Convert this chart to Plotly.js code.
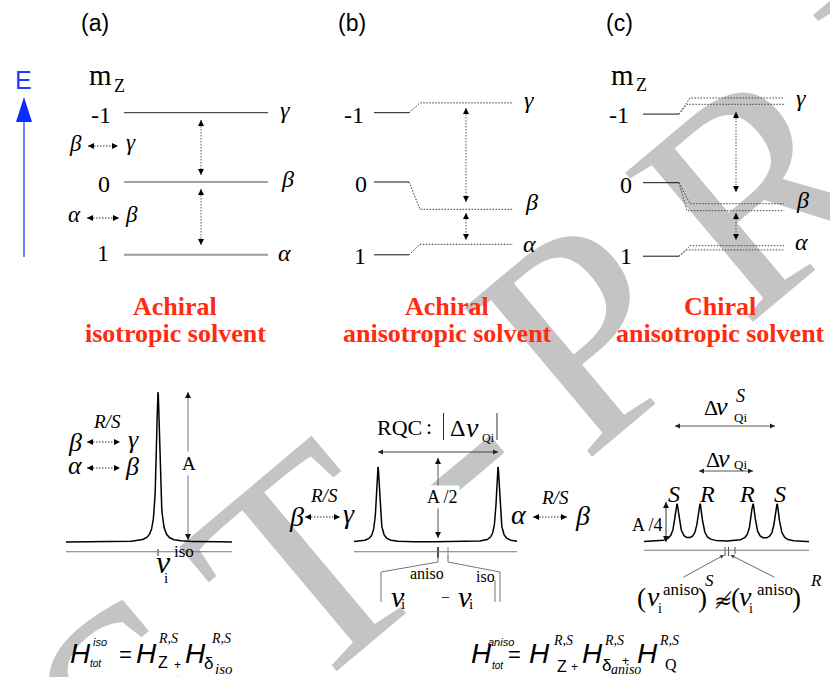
<!DOCTYPE html>
<html><head><meta charset="utf-8">
<script src="https://cdn.plot.ly/plotly-3.0.1.min.js"></script>
<style>html,body{margin:0;padding:0;background:#fff}#chart{width:830px;height:677px}</style>
</head><body><div id="chart"></div>
<script>
// ---------------- DATA ----------------
const panelLetters = ['(a)', '(b)', '(c)'];
const solventLine1 = ['Achiral', 'Achiral', 'Chiral'];
const solventLine2 = ['isotropic solvent', 'anisotropic solvent', 'anisotropic solvent'];
const mzLabels = ['-1', '0', '1'];
const spinStates = ['γ', 'β', 'α'];
const watermarkText = 'POST-PRINT';

// energy levels (arbitrary units; E = 0 for m_z = 0 in isotropic solvent), order: m_z = -1, 0, 1
const levelsIso = [0.99, 0.00, -1.04];
const levelsAchiralRef = [0.99, 0.00, -1.04];
const levelsAchiral = [1.13, -0.39, -0.89];
const levelsChiralRef = [0.97, -0.01, -1.06];
const levelsChiralS = [1.20, -0.31, -0.91];
const levelsChiralR = [1.11, -0.41, -0.97];

// transitions (energies at arrow tips)
const transIso = [[0.886, 0.10], [-0.10, -0.90]];
const transAchiral = [[1.057, -0.286], [-0.443, -0.829]];
const transChiral = [[1.00, -0.143], [-0.443, -0.829]];

// spectra: line frequencies and intensities (units of A)
const isoLines = [158];
const isoHeights = [1];
const anisoLines = [378, 498];
const anisoHeights = [0.5, 0.5];
const chiralLines = [677, 700, 753, 777];
const chiralHeights = [0.25, 0.25, 0.25, 0.25];
const chiralLineLabels = ['S', 'R', 'R', 'S'];
const anisoTicks = [438, 448];
const chiralTicks = [725, 728.5, 735];

// ---------------- STYLE / HELPERS ----------------
const SERIF = 'Liberation Serif';
const SANS = 'Liberation Sans';
const RED = '#ff2b0f';
const DOT = '1.5px,1.5px';
const E_RANGE = [-7.0714, 2.6];      // energy axis (y2)
const I_RANGE = [-0.9, 3.6133];      // intensity axis (y3)

const traces = [];
const ann = [];

function line(xs, ys, yaxis, color, width, dash) {
  traces.push({type: 'scatter', mode: 'lines', x: xs, y: ys, yaxis: yaxis,
    line: {color: color, width: width, dash: dash || 'solid'}, hoverinfo: 'skip', showlegend: false});
}
function heads(xs, ys, yaxis, symbols, color, size) {
  traces.push({type: 'scatter', mode: 'markers', x: xs, y: ys, yaxis: yaxis,
    marker: {symbol: symbols, color: color, size: size, line: {width: 0}}, hoverinfo: 'skip', showlegend: false});
}
function vArrow(x, yTop, yBot, yaxis, lc, dash, hc, size) {
  line([x, x], [yTop, yBot], yaxis, lc, 1, dash);
  heads([x, x], [yTop, yBot], yaxis, ['arrow-up', 'arrow-down'], hc, size);
}
function hArrow(xL, xR, y, yaxis, lc, dash, hc, size) {
  line([xL, xR], [y, y], yaxis, lc, 1, dash);
  heads([xL, xR], [y, y], yaxis, ['arrow-left', 'arrow-right'], hc, size);
}
function T(x, y, text, size, o) {
  o = o || {};
  ann.push({x: x, y: y, xref: 'x', yref: o.yref || 'y', text: text, showarrow: false,
    xanchor: o.xanchor || 'center', yanchor: 'middle',
    font: {family: o.family || SERIF, size: size, color: o.color || '#000'},
    bgcolor: o.bg || 'rgba(0,0,0,0)', borderpad: o.pad === undefined ? 1 : o.pad});
}
function spectrum(pos, hts, gamma, x0, x1) {
  const xs = [], ys = [];
  for (let x = x0; x <= x1 + 1e-9; x += 0.25) {
    let s = 0;
    for (let k = 0; k < pos.length; k++) {
      const d = x - pos[k];
      s += hts[k] * gamma * gamma / (d * d + gamma * gamma);
    }
    xs.push(x); ys.push(s);
  }
  line(xs, ys, 'y3', '#000', 1.5);
}

// ---------------- WATERMARK (letter-spaced, rotated) ----------------
const WM = {angle: 40, size: 300, track: 43, anchorIdx: 2, anchor: [180, 753], lift: 0.32, color: '#c4c4c4'};
const wmShapes = (function () {
  const letters = watermarkText.split('');
  const ctx = document.createElement('canvas').getContext('2d');
  ctx.font = WM.size + 'px "Liberation Serif"';
  const adv = letters.map(c => ctx.measureText(c).width);
  const pos = [];
  let d = 0;
  letters.forEach((c, i) => { if (i > 0) d += adv[i - 1] / 2 + WM.track + adv[i] / 2; pos.push(d); });
  const th = WM.angle * Math.PI / 180;
  const u = [Math.cos(th), -Math.sin(th)], v = [-Math.sin(th), -Math.cos(th)];
  const off = WM.lift * WM.size;
  return letters.map((c, i) => {
    const s = pos[i] - pos[WM.anchorIdx];
    const cx = WM.anchor[0] + s * u[0] + off * v[0];
    const cy = WM.anchor[1] + s * u[1] + off * v[1];
    return {type: 'rect', xref: 'x', yref: 'y', x0: cx - 1, x1: cx + 1, y0: cy - 1, y1: cy + 1,
      layer: 'below', line: {width: 0}, fillcolor: 'rgba(0,0,0,0)',
      label: {text: c, textangle: -WM.angle, textposition: 'middle center',
        font: {family: SERIF, size: WM.size, color: WM.color}}};
  });
})();

// ---------------- TOP: ENERGY LEVELS ----------------
line([24, 24], [257, 112], 'y', '#3a5cff', 1.5);
traces.push({type: 'scatter', mode: 'lines', x: [16, 32, 24, 16], y: [122, 122, 97, 122], yaxis: 'y',
  fill: 'toself', fillcolor: '#0a2cff', line: {width: 0}, hoverinfo: 'skip', showlegend: false});

// (a)
const isoStyle = [['#222', 1], ['#444', 1.2], ['#999', 2]];
levelsIso.forEach((E, i) => line([124, 268], [E, E], 'y2', isoStyle[i][0], isoStyle[i][1]));
transIso.forEach(t => vArrow(201, t[0], t[1], 'y2', '#555', DOT, '#000', 6));
hArrow(88, 118, 146, 'y', '#333', DOT, '#000', 6);
hArrow(87, 119, 218, 'y', '#333', DOT, '#000', 6);

// (b)
levelsAchiral.forEach((E, i) => {
  const E0 = levelsAchiralRef[i];
  line([374, 409], [E0, E0], 'y2', '#111', 1);
  line([409, 420, 513], [E0, E, E], 'y2', '#333', 1, DOT);
});
transAchiral.forEach(t => vArrow(466, t[0], t[1], 'y2', '#555', DOT, '#000', 6));

// (c)
levelsChiralS.forEach((E, i) => {
  const E0 = levelsChiralRef[i];
  line([643, 679], [E0, E0], 'y2', '#111', 1);
  line([679, 690, 784], [E0, E, E], 'y2', '#444', 1, DOT);
  line([679, 687, 784], [E0, levelsChiralR[i], levelsChiralR[i]], 'y2', '#444', 1, DOT);
});
transChiral.forEach(t => vArrow(736, t[0], t[1], 'y2', '#555', DOT, '#000', 6));

// ---------------- BOTTOM: SPECTRA ----------------
spectrum(isoLines, isoHeights, 2.0, 66, 232);
spectrum(anisoLines, anisoHeights, 2.0, 354, 517);
spectrum(chiralLines, chiralHeights, 2.8, 644, 809);
line([66, 232], [-0.065, -0.065], 'y3', '#777', 1);
line([354, 517], [-0.065, -0.065], 'y3', '#777', 1);
line([644, 809], [-0.055, -0.055], 'y3', '#777', 1);
isoLines.forEach(x => line([x, x], [549, 556], 'y', '#333', 1));
anisoTicks.forEach((x, i) => line([x, x], [547, 558], 'y', i ? '#888' : '#222', i ? 1 : 1.6));
chiralTicks.forEach((x, i) => line([x, x], [547, i === 2 ? 554 : 556], 'y', '#555', 1));
vArrow(188, isoHeights[0], 0.013, 'y3', '#777', 'solid', '#111', 6);
vArrow(438, 0.56, 0.027, 'y3', '#555', 'solid', '#111', 6);
vArrow(666, chiralHeights[0] + 0.017, 0.0, 'y3', '#333', 'solid', '#111', 6);
hArrow(anisoLines[0], anisoLines[1], 452, 'y', '#444', 'solid', '#222', 5);
hArrow(chiralLines[0] - 2, chiralLines[3] - 2, 426, 'y', '#555', 'solid', '#222', 5);
hArrow(chiralLines[1] - 1, chiralLines[2], 471, 'y', '#555', 'solid', '#222', 5);
hArrow(87, 120, 442, 'y', '#333', DOT, '#000', 6);
hArrow(87, 120, 468, 'y', '#333', DOT, '#000', 6);
hArrow(305, 340, 517, 'y', '#333', DOT, '#000', 6);
hArrow(533, 567, 517, 'y', '#333', DOT, '#000', 6);
line([438, 438, 381, 381], [556, 562, 572, 602], 'y', '#777', 1);
line([448, 448, 500, 500], [556, 562, 572, 602], 'y', '#777', 1);
line([495, 495], [580, 602], 'y', '#777', 1);
line([443.5, 443.5], [413, 440], 'y', '#333', 1);
line([497, 497], [413, 440], 'y', '#333', 1);

// ---------------- TEXT ----------------
panelLetters.forEach((t, i) => T([95, 352, 619][i], 23, t, 23, {family: SANS}));
T(23, 80, 'E', 25, {family: SANS, color: '#1a3cff'});
T(100.5, 75, 'm', 29); T(119, 85.5, 'Z', 18);
T(622, 75, 'm', 29); T(641.5, 85, 'Z', 18);

const mzX = [[101, 103.5, 103], [354, 361, 360], [619, 625.5, 626]];
const mzY = [[115, 184, 253], [115, 183.5, 255.5], [114.5, 185, 256]];
const stX = [[285, 287, 284], [529, 531, 529], [801, 802, 801]];
const stY = [[110, 179, 253], [100, 202, 244], [98, 200, 242]];
for (let p = 0; p < 3; p++) {
  mzLabels.forEach((m, i) => T(mzX[p][i], mzY[p][i], m, 24));
  spinStates.forEach((s, i) => T(stX[p][i], stY[p][i], '<i>' + s + '</i>', 24));
}
T(75, 143.5, '<i>β</i>', 23); T(131, 142, '<i>γ</i>', 23);
T(74.5, 214, '<i>α</i>', 23); T(131, 214, '<i>β</i>', 23);

[175, 447, 720].forEach((x, i) => {
  T(x, 306, '<b>' + solventLine1[i] + '</b>', 26, {color: RED});
  T(x, 333, '<b>' + solventLine2[i] + '</b>', 26, {color: RED});
});

T(107, 421.5, '<i>R/S</i>', 19);
T(75, 442, '<i>β</i>', 26); T(133, 439, '<i>γ</i>', 26);
T(75, 465, '<i>α</i>', 26); T(131.5, 466, '<i>β</i>', 26);
T(189, 463.5, 'A', 19, {bg: '#fff'});
T(163.5, 562, '<i>ν</i>', 32); T(166, 578, 'i', 15); T(184, 551.5, 'iso', 17);

T(399.5, 427, 'RQC', 22); T(428.5, 426, ':', 22);
T(457.5, 428, 'Δ', 24); T(472.5, 427, '<i>ν</i>', 28); T(488.5, 437.5, 'Qi', 12);
T(442, 496.5, 'A /2', 18, {bg: '#fff'});
T(323.5, 495, '<i>R/S</i>', 19);
T(296, 516, '<i>β</i>', 28); T(349, 513, '<i>γ</i>', 28);
T(555, 497, '<i>R/S</i>', 19);
T(518.5, 514, '<i>α</i>', 28); T(582.5, 515, '<i>β</i>', 28);
T(397.5, 596, '<i>ν</i>', 30); T(402.5, 604, 'i', 15); T(426.5, 573, 'aniso', 16);
T(445.5, 596, '–', 14);
T(465, 596, '<i>ν</i>', 30); T(470.5, 604, 'i', 15); T(485, 576, 'iso', 16);

T(711, 407.5, 'Δ', 22); T(722, 406.5, '<i>ν</i>', 26); T(740, 396, '<i>S</i>', 18); T(740, 417, 'Qi', 13);
T(712.5, 459, 'Δ', 22); T(724, 458.5, '<i>ν</i>', 26); T(740, 464.5, 'Qi', 13);
const srX = [673.5, 706.5, 746.5, 780];
chiralLineLabels.forEach((s, i) => T(srX[i], 493.5, '<i>' + s + '</i>', 24));
T(647, 524.5, 'A /4', 18);
T(641.5, 597.7, '(', 27); T(653.5, 596, '<i>ν</i>', 28); T(660, 608, 'i', 14); T(680.5, 589, 'aniso', 17);
T(702, 597.7, ')', 27); T(709, 580, '<i>S</i>', 17);
T(722.5, 600, '≉', 22, {family: 'DejaVu Serif'});
T(735, 597.7, '(', 27); T(745.5, 596, '<i>ν</i>', 28); T(751, 608, 'i', 14); T(774.5, 589, 'aniso', 17);
T(796, 597.7, ')', 27); T(816, 580, '<i>R</i>', 17);
ann.push({x: chiralTicks[0] - 1, y: 555, ax: 682, ay: 578, xref: 'x', yref: 'y', axref: 'x', ayref: 'y',
  text: '', showarrow: true, arrowhead: 2, arrowsize: 1, arrowwidth: 0.8, arrowcolor: '#444'});
ann.push({x: chiralTicks[1] + 2, y: 555, ax: 776, ay: 578, xref: 'x', yref: 'y', axref: 'x', ayref: 'y',
  text: '', showarrow: true, arrowhead: 2, arrowsize: 1, arrowwidth: 0.8, arrowcolor: '#444'});

const S = {family: SANS};
T(80, 653, '<i>H</i>', 28, S); T(100, 641.5, '<i>iso</i>', 11, S); T(96, 663.5, '<i>tot</i>', 10, S);
T(125.5, 654, '=', 22, S);
T(146, 653, '<i>H</i>', 28, S); T(168, 638, '<i>R,S</i>', 14); T(162.5, 662.5, 'Z', 16, S); T(177.5, 665, '+', 12, S);
T(195, 653, '<i>H</i>', 28, S); T(221, 638, '<i>R,S</i>', 14); T(208, 663, 'δ', 17, S); T(224, 669, '<i>iso</i>', 15);

T(481, 653, '<i>H</i>', 28, S); T(501, 641.5, '<i>aniso</i>', 11, S); T(498, 665, '<i>tot</i>', 10, S);
T(514, 654, '=', 22, S);
T(539, 653, '<i>H</i>', 28, S); T(563, 640, '<i>R,S</i>', 14); T(561.5, 666, 'Z', 16, S); T(574.5, 667, '+', 12, S);
T(592.5, 653, '<i>H</i>', 28, S); T(614, 640, '<i>R,S</i>', 14); T(606, 665, 'δ', 17, S);
T(626, 669, '<i>aniso</i>', 14); T(625.5, 661, '+', 12, S);
T(647, 653, '<i>H</i>', 28, S); T(668.5, 640, '<i>R,S</i>', 14); T(671, 664, 'Q', 16);

// ---------------- LAYOUT ----------------
const layout = {
  width: 830, height: 677, margin: {l: 0, r: 0, t: 0, b: 0, pad: 0},
  paper_bgcolor: '#fff', plot_bgcolor: '#fff', showlegend: false,
  xaxis: {range: [0, 830], visible: false, fixedrange: true},
  yaxis: {range: [677, 0], visible: false, fixedrange: true},
  yaxis2: {range: E_RANGE, overlaying: 'y', anchor: 'x', visible: false, fixedrange: true},
  yaxis3: {range: I_RANGE, overlaying: 'y', anchor: 'x', visible: false, fixedrange: true},
  annotations: ann,
  shapes: wmShapes
};
Plotly.newPlot('chart', traces, layout, {staticPlot: true, displayModeBar: false});
</script>
</body></html>
